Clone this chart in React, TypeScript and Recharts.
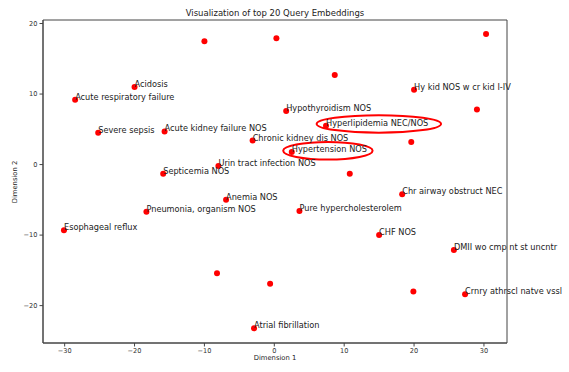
import React from 'react';
import {
  ScatterChart,
  Scatter,
  XAxis,
  YAxis,
  ReferenceArea,
} from 'recharts';

// 2-D projection of the top 20 query embeddings (labelled terms)
const termNames = [
  'Acidosis',
  'Acute respiratory failure',
  'Severe sepsis',
  'Acute kidney failure NOS',
  'Chronic kidney dis NOS',
  'Hypothyroidism NOS',
  'Urin tract infection NOS',
  'Septicemia NOS',
  'Hy kid NOS w cr kid I-IV',
  'Hyperlipidemia NEC/NOS',
  'Hypertension NOS',
  'Anemia NOS',
  'Pneumonia, organism NOS',
  'Esophageal reflux',
  'Atrial fibrillation',
  'Chr airway obstruct NEC',
  'Pure hypercholesterolem',
  'CHF NOS',
  'DMII wo cmp nt st uncntr',
  'Crnry athrscl natve vssl',
];
const termX = [-20.0, -28.5, -25.2, -15.7, -3.1, 1.7, -8.0, -15.9, 20.0, 7.4, 2.5, -6.9, -18.3, -30.1, -2.9, 18.3, 3.6, 15.0, 25.7, 27.3];
const termY = [11.0, 9.2, 4.5, 4.7, 3.4, 7.6, -0.2, -1.3, 10.6, 5.5, 1.8, -5.0, -6.7, -9.3, -23.2, -4.2, -6.6, -10.0, -12.1, -18.4];

// other embeddings without a label
const otherX = [-10.0, 0.3, 30.3, 8.65, 29.0, 19.6, 10.8, -8.2, -0.6, 19.9];
const otherY = [17.5, 17.9, 18.5, 12.7, 7.8, 3.2, -1.3, -15.4, -16.9, -18.0];

const xTicks = [-30, -20, -10, 0, 10, 20, 30];
const yTicks = [-20, -10, 0, 10, 20];
const xDomain: [number, number] = [-33.1, 33.3];
const yDomain: [number, number] = [-25.3, 20.5];

// highlighted terms, circled with an ellipse [x1, x2, y1, y2]
const highlightBoxes = [
  [6.06, 23.86, 4.53, 6.99],
  [1.27, 14.07, 0.71, 3.21],
];

const terms = termNames.map((name, i) => ({ x: termX[i], y: termY[i], name }));
const others = otherX.map((x, i) => ({ x, y: otherY[i] }));

const FONT = '"DejaVu Sans", sans-serif';
const fmt = (v: number) => String(v).replace('-', '\u2212');

const Dot = (props: any) => <circle cx={props.cx} cy={props.cy} r={3} fill="#ff0000" />;

// term names sit to the right of their point, baseline on the point
const TermLabel = (props: any) => (
  <text
    x={props.cx}
    y={props.cy}
    fontSize={8.2}
    fontFamily={FONT}
    fill="#222"
    textAnchor="start"
  >
    {props.payload.name}
  </text>
);

const Ellipse = (props: any) => (
  <ellipse
    cx={props.x + props.width / 2}
    cy={props.y + props.height / 2}
    rx={props.width / 2}
    ry={props.height / 2}
    fill="none"
    stroke="#ff0000"
    strokeWidth={2}
  />
);

export default function App() {
  return (
    <div style={{ position: 'absolute', left: 0, top: 0, width: 569, height: 372, background: '#fff' }}>
      <ScatterChart
        width={569}
        height={372}
        margin={{ top: 20, right: 62, bottom: 9, left: 13 }}
      >
        <XAxis
          type="number"
          dataKey="x"
          domain={xDomain}
          ticks={xTicks}
          height={20}
          tickFormatter={fmt}
          tick={{ fontSize: 6.6, fontFamily: FONT, fill: '#333' }}
          tickSize={3.5}
          tickMargin={2}
          stroke="#444"
        />
        <YAxis
          type="number"
          dataKey="y"
          domain={yDomain}
          ticks={yTicks}
          width={30}
          tickFormatter={fmt}
          tick={{ fontSize: 6.6, fontFamily: FONT, fill: '#333' }}
          tickSize={3.5}
          tickMargin={2}
          stroke="#444"
        />
        <ReferenceArea
          x1={xDomain[0]}
          x2={xDomain[1]}
          y1={yDomain[0]}
          y2={yDomain[1]}
          fill="none"
          stroke="#444"
          strokeWidth={1}
        />
        <Scatter data={others} shape={Dot} isAnimationActive={false} />
        <Scatter data={terms} shape={Dot} isAnimationActive={false} />
        <Scatter data={terms} shape={TermLabel} isAnimationActive={false} />
        {highlightBoxes.map((b, i) => (
          <ReferenceArea
            key={i}
            x1={b[0]}
            x2={b[1]}
            y1={b[2]}
            y2={b[3]}
            shape={Ellipse}
          />
        ))}
        <text x={275} y={16} textAnchor="middle" fontSize={8.5} fontFamily={FONT} fill="#222">
          Visualization of top 20 Query Embeddings
        </text>
        <text x={275} y={360} textAnchor="middle" fontSize={6.8} fontFamily={FONT} fill="#222">
          Dimension 1
        </text>
        <text
          x={15}
          y={182}
          textAnchor="middle"
          dominantBaseline="central"
          fontSize={6.8}
          fontFamily={FONT}
          fill="#222"
          transform="rotate(-90 15 182)"
        >
          Dimension 2
        </text>
      </ScatterChart>
    </div>
  );
}
